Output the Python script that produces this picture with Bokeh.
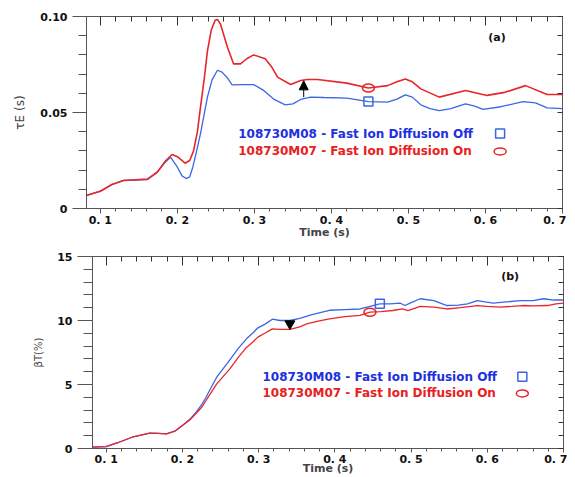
from bokeh.plotting import figure
from bokeh.layouts import column, row
from bokeh.models import Range1d, FixedTicker, LinearAxis, Label, Arrow, NormalHead
from bokeh.embed import file_html
from bokeh.resources import INLINE

# ---------------- data ----------------
tau_off_t = [0.082, 0.10, 0.115, 0.13, 0.161, 0.174, 0.184, 0.191, 0.2, 0.206, 0.2114, 0.216,
             0.22, 0.225, 0.23, 0.239, 0.245, 0.252, 0.258, 0.265, 0.271, 0.285, 0.299, 0.312,
             0.325, 0.34, 0.35, 0.36, 0.373, 0.39, 0.42, 0.448, 0.473, 0.485, 0.496, 0.505,
             0.516, 0.528, 0.54, 0.555, 0.574, 0.585, 0.597, 0.62, 0.649, 0.665, 0.68, 0.7]
tau_off = [0.0068, 0.009, 0.0125, 0.0146, 0.015, 0.0189, 0.024, 0.0267, 0.0215, 0.017, 0.0156, 0.0165,
           0.0215, 0.03, 0.039, 0.058, 0.067, 0.072, 0.071, 0.068, 0.0644, 0.0645, 0.0645, 0.0615,
           0.057, 0.054, 0.0545, 0.0568, 0.058, 0.0578, 0.0575, 0.0557, 0.0554, 0.057, 0.0592, 0.058,
           0.054, 0.052, 0.051, 0.052, 0.0545, 0.0535, 0.0516, 0.053, 0.0557, 0.055, 0.0524, 0.052]

tau_on_t = [0.082, 0.10, 0.115, 0.13, 0.161, 0.174, 0.185, 0.193, 0.2, 0.21, 0.216, 0.221,
            0.226, 0.23, 0.235, 0.239, 0.244, 0.249, 0.252, 0.256, 0.265, 0.273, 0.282, 0.29,
            0.299, 0.314, 0.322, 0.33, 0.347, 0.36, 0.369, 0.382, 0.42, 0.448, 0.473, 0.485,
            0.496, 0.505, 0.516, 0.54, 0.574, 0.602, 0.625, 0.652, 0.68, 0.7]
tau_on = [0.0068, 0.009, 0.0125, 0.0146, 0.0153, 0.019, 0.025, 0.0281, 0.027, 0.0236, 0.025, 0.030,
          0.040, 0.0528, 0.068, 0.082, 0.093, 0.098, 0.0985, 0.096, 0.084, 0.0753, 0.0753, 0.078,
          0.080, 0.078, 0.074, 0.0684, 0.0646, 0.0667, 0.0672, 0.0672, 0.0653, 0.0628, 0.064, 0.066,
          0.0675, 0.066, 0.0623, 0.058, 0.0615, 0.0589, 0.0605, 0.064, 0.0594, 0.0594]

beta_off_t = [0.08, 0.1, 0.115, 0.134, 0.157, 0.168, 0.179, 0.19, 0.2, 0.21, 0.218, 0.225,
              0.231, 0.238, 0.245, 0.253, 0.262, 0.273, 0.284, 0.292, 0.299, 0.308, 0.318, 0.328,
              0.341, 0.354, 0.37, 0.393, 0.413, 0.433, 0.446, 0.459, 0.472, 0.486, 0.492, 0.5,
              0.512, 0.53, 0.547, 0.562, 0.574, 0.587, 0.597, 0.608, 0.625, 0.643, 0.66, 0.674,
              0.687, 0.7]
beta_off = [0.1, 0.15, 0.45, 0.88, 1.2, 1.18, 1.15, 1.35, 1.8, 2.3, 2.84, 3.4,
            4.0, 4.8, 5.57, 6.2, 6.9, 7.8, 8.57, 9.0, 9.43, 9.7, 10.1, 10.0,
            10.0, 10.16, 10.45, 10.8, 10.85, 10.9, 11.1, 11.3, 11.3, 11.35, 11.17, 11.4,
            11.7, 11.55, 11.17, 11.2, 11.3, 11.56, 11.45, 11.35, 11.45, 11.56, 11.55, 11.7,
            11.6, 11.6]

beta_on_t = [0.08, 0.1, 0.115, 0.134, 0.157, 0.168, 0.179, 0.19, 0.2, 0.21, 0.218, 0.225,
             0.231, 0.238, 0.245, 0.253, 0.262, 0.273, 0.284, 0.292, 0.299, 0.308, 0.318, 0.328,
             0.341, 0.354, 0.363, 0.378, 0.393, 0.413, 0.433, 0.446, 0.46, 0.476, 0.489, 0.496,
             0.512, 0.53, 0.547, 0.565, 0.587, 0.6, 0.617, 0.632, 0.647, 0.66, 0.679, 0.69, 0.7]
beta_on = [0.1, 0.15, 0.45, 0.88, 1.2, 1.18, 1.15, 1.35, 1.8, 2.25, 2.75, 3.2,
           3.75, 4.4, 5.05, 5.6, 6.2, 7.1, 7.9, 8.3, 8.7, 9.0, 9.35, 9.3,
           9.3, 9.5, 9.74, 9.95, 10.13, 10.3, 10.4, 10.65, 10.7, 10.78, 10.9, 10.78,
           11.1, 11.05, 10.9, 11.0, 11.17, 11.1, 11.05, 11.1, 11.17, 11.15, 11.17, 11.3, 11.35]

# highlighted points on the curves
tau_off_mark = ([0.448], [0.0557])
tau_on_mark = ([0.448], [0.0628])
beta_off_mark = ([0.459], [11.3])
beta_on_mark = ([0.446], [10.65])
tau_arrow = (0.364, 0.058, 0.0665)
beta_tri = ([0.341], [9.75])

x_ticks = [0.1, 0.2, 0.3, 0.4, 0.5, 0.6, 0.7]
x_tick_labels = ["0. 1", "0. 2", "0. 3", "0. 4", "0. 5", "0. 6", "0. 7"]
tau_ticks = [0.0, 0.05, 0.10]
tau_tick_labels = ["0", "0.05", "0.10"]
beta_ticks = [0, 5, 10, 15]
beta_tick_labels = ["0", "5", "10", "15"]

label_off = "108730M08 - Fast Ion Diffusion Off"
label_on = "108730M07 - Fast Ion Diffusion On"

BLUE_LINE = "#3a66e6"
RED_LINE = "#e8262a"
BLUE_TXT = "#2030e0"
RED_TXT = "#e82020"
TICK_FONT = "DejaVu Sans"
LEG_FONT = "DejaVu Sans"


def style(p, yticks, ylabels, ymin_step, label_y, tick_out_y, xlabel_standoff, xtick_out):
    xt = FixedTicker(ticks=x_ticks, minor_ticks=[round(0.08 + 0.02 * i, 3) for i in range(32)])
    ymax = yticks[-1]
    yminor = []
    v = 0.0
    while v <= ymax + 1e-9:
        yminor.append(round(v, 4))
        v += ymin_step
    yt = FixedTicker(ticks=yticks, minor_ticks=yminor)
    p.xaxis.ticker = xt
    p.yaxis.ticker = yt
    p.xaxis.major_label_overrides = {t: s for t, s in zip(x_ticks, x_tick_labels)}
    p.yaxis.major_label_overrides = {t: s for t, s in zip(yticks, ylabels)}
    for ax in (p.xaxis[0], p.yaxis[0]):
        ax.major_label_text_font = TICK_FONT
        ax.major_label_text_font_style = "bold"
        ax.major_label_text_font_size = "11px"
        ax.major_label_text_color = "#111111"
        ax.axis_line_color = "#555555"
        ax.major_tick_line_color = "#555555"
        ax.minor_tick_line_color = "#555555"
        ax.major_tick_in = 0
        ax.minor_tick_in = 0
    p.xaxis.major_tick_out = xtick_out
    p.xaxis.minor_tick_out = 3
    p.xaxis.major_label_standoff = 0
    p.xaxis.axis_label = "Time (s)"
    p.xaxis.axis_label_text_font = TICK_FONT
    p.xaxis.axis_label_text_font_style = "bold"
    p.xaxis.axis_label_text_font_size = "11px"
    p.xaxis.axis_label_standoff = xlabel_standoff
    p.yaxis.major_tick_out = tick_out_y
    p.yaxis.minor_tick_out = tick_out_y - 6
    p.yaxis.major_label_standoff = 5
    p.yaxis.axis_label = label_y
    p.yaxis.axis_label_text_font = "DejaVu Sans"
    p.yaxis.axis_label_text_font_style = "normal"
    p.yaxis.axis_label_text_font_size = "12px"
    p.yaxis.axis_label_standoff = 10

    # mirrored axes with inward ticks (labels not drawn)
    top = LinearAxis(ticker=xt, major_label_text_font_size="1px", major_label_text_color=None,
                     major_label_standoff=0,
                     major_tick_in=9, major_tick_out=0, minor_tick_in=5, minor_tick_out=0,
                     axis_line_color="#555555", major_tick_line_color="#333333",
                     minor_tick_line_color="#333333")
    right = LinearAxis(ticker=FixedTicker(ticks=yminor), major_label_text_font_size="1px",
                       major_label_text_color=None,
                       major_label_standoff=0, major_tick_in=5, major_tick_out=0,
                       minor_tick_in=0, minor_tick_out=0,
                       axis_line_color="#555555", major_tick_line_color="#333333")
    p.add_layout(top, "above")
    p.add_layout(right, "right")
    p.xgrid.visible = False
    p.ygrid.visible = False
    p.outline_line_color = "#555555"
    p.background_fill_color = "white"
    p.border_fill_color = "white"


def legend_text(p, x, y, text, color):
    p.add_layout(Label(x=x, y=y, text=text, text_color=color, text_font=LEG_FONT,
                       text_font_style="bold", text_font_size="12px", text_baseline="middle"))


# ---------------- top panel ----------------
p1 = figure(frame_width=476, frame_height=192, output_backend="svg", toolbar_location=None,
            x_range=Range1d(0.082, 0.7), y_range=Range1d(0, 0.10),
            min_border_left=86, min_border_top=16, min_border_right=4, min_border_bottom=33)
style(p1, tau_ticks, tau_tick_labels, 0.01, "τE (s)", 14, -4, 5)

p1.line(tau_off_t, tau_off, line_color=BLUE_LINE, line_width=1.3)
p1.line(tau_on_t, tau_on, line_color=RED_LINE, line_width=1.6)
p1.scatter(*tau_off_mark, marker="square", size=9, fill_color=None, line_color=BLUE_LINE, line_width=1.5)
p1.ellipse(*tau_on_mark, width=12, height=8, width_units="screen", height_units="screen",
           fill_color=None, line_color=RED_LINE, line_width=1.5)
p1.add_layout(Arrow(end=NormalHead(size=9, fill_color="black", line_color="black"),
                    x_start=tau_arrow[0], y_start=tau_arrow[1], x_end=tau_arrow[0], y_end=tau_arrow[2],
                    line_color="black", line_width=1))

legend_text(p1, 0.279, 0.039, label_off, BLUE_TXT)
legend_text(p1, 0.279, 0.0297, label_on, RED_TXT)
p1.scatter([0.619], [0.039], marker="square", size=9, fill_color=None, line_color=BLUE_LINE, line_width=1.5)
p1.ellipse([0.619], [0.0297], width=12, height=7, width_units="screen", height_units="screen",
           fill_color=None, line_color=RED_LINE, line_width=1.5)
p1.add_layout(Label(x=0.615, y=0.089, text="(a)", text_font=LEG_FONT, text_font_style="bold",
                    text_font_size="11px", text_align="center", text_baseline="middle", text_color="#111111"))

# ---------------- bottom panel ----------------
p2 = figure(frame_width=471, frame_height=192, output_backend="svg", toolbar_location=None,
            x_range=Range1d(0.082, 0.7), y_range=Range1d(0, 15),
            min_border_left=92, min_border_top=15, min_border_right=4, min_border_bottom=20)
style(p2, beta_ticks, beta_tick_labels, 1, "βT(%)", 15, -7, 4)
p2.yaxis.axis_label_text_font_size = "10px"

p2.line(beta_off_t, beta_off, line_color=BLUE_LINE, line_width=1.3)
p2.line(beta_on_t, beta_on, line_color=RED_LINE, line_width=1.3)
p2.scatter(*beta_off_mark, marker="square", size=9, fill_color=None, line_color=BLUE_LINE, line_width=1.5)
p2.ellipse(*beta_on_mark, width=12, height=8, width_units="screen", height_units="screen",
           fill_color=None, line_color=RED_LINE, line_width=1.5)
p2.scatter(*beta_tri, marker="inverted_triangle", size=10, fill_color="black", line_color="black")

legend_text(p2, 0.305, 5.6, label_off, BLUE_TXT)
legend_text(p2, 0.305, 4.3, label_on, RED_TXT)
p2.scatter([0.646], [5.6], marker="square", size=9, fill_color=None, line_color=BLUE_LINE, line_width=1.5)
p2.ellipse([0.646], [4.3], width=12, height=7, width_units="screen", height_units="screen",
           fill_color=None, line_color=RED_LINE, line_width=1.5)
p2.add_layout(Label(x=0.63, y=13.4, text="(b)", text_font=LEG_FONT, text_font_style="bold",
                    text_font_size="11px", text_align="center", text_baseline="middle", text_color="#111111"))

layout = column(row(p1), row(p2), spacing=0)
open("out.html", "w").write(file_html(layout, INLINE))
